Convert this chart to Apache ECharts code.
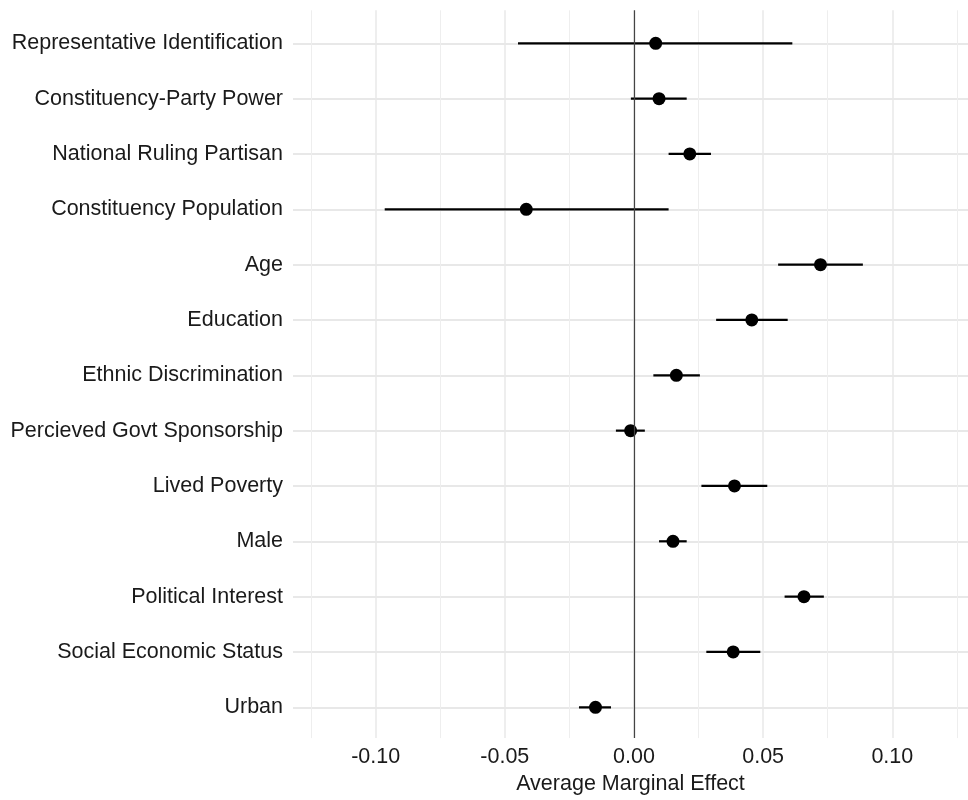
<!DOCTYPE html>
<html>
<head>
<meta charset="utf-8">
<script src="https://cdn.jsdelivr.net/npm/echarts@6/dist/echarts.min.js"></script>
<style>
html, body { margin: 0; padding: 0; background: #fff; }
#chart { width: 968px; height: 800px; }
</style>
</head>
<body>
<div id="chart"></div>
<script>
// coefficients (top row first)
const categories = [
  'Representative Identification',
  'Constituency-Party Power',
  'National Ruling Partisan',
  'Constituency Population',
  'Age',
  'Education',
  'Ethnic Discrimination',
  'Percieved Govt Sponsorship',
  'Lived Poverty',
  'Male',
  'Political Interest',
  'Social Economic Status',
  'Urban'
];
const estimates = [0.0084, 0.0097, 0.0216, -0.0417, 0.0722, 0.0456, 0.0164, -0.0013, 0.0389, 0.0151, 0.0658, 0.0384, -0.0149];
const lower     = [-0.0449, -0.0012, 0.0134, -0.0965, 0.0558, 0.0318, 0.0075, -0.0070, 0.0261, 0.0097, 0.0583, 0.0280, -0.0213];
const upper     = [0.0613, 0.0204, 0.0298, 0.0134, 0.0886, 0.0595, 0.0255, 0.0042, 0.0516, 0.0204, 0.0735, 0.0489, -0.0089];

const majorTicks = [-0.10, -0.05, 0, 0.05, 0.10];
const minorTicks = [-0.125, -0.075, -0.025, 0.025, 0.075, 0.125];
const refLine = 0;

const xMin = -0.132;
const xMax = 0.1293;

const font = '"Liberation Sans", Arial, Helvetica, sans-serif';
const textColor = '#1a1a1a';

const chart = echarts.init(document.getElementById('chart'));

const option = {
  animation: false,
  backgroundColor: '#fff',
  grid: [
    // full panel: vertical grid lines, x axis, zero line
    { left: 293, right: 0, top: 10.3, bottom: 59.7 },
    // rows
    { left: 293, right: 0, top: 43.3, bottom: 92.7 }
  ],
  xAxis: [
    {
      gridIndex: 0, type: 'value', min: xMin, max: xMax, position: 'bottom',
      axisLine: { show: false },
      axisTick: { show: false, customValues: majorTicks },
      axisLabel: {
        customValues: majorTicks,
        formatter: v => v.toFixed(2),
        margin: 8, fontSize: 21.5, color: textColor, fontFamily: font
      },
      splitLine: { show: true, lineStyle: { color: '#E8E8E8', width: 1.5 } },
      name: 'Average Marginal Effect',
      nameLocation: 'middle',
      nameGap: 33,
      nameTextStyle: { fontSize: 21.5, color: textColor, fontFamily: font }
    },
    {
      gridIndex: 0, type: 'value', min: xMin, max: xMax, position: 'bottom',
      axisLine: { show: false },
      axisTick: { show: false, customValues: minorTicks },
      axisLabel: { show: false },
      splitLine: { show: true, lineStyle: { color: '#EEEEEE', width: 1 } }
    },
    { gridIndex: 1, type: 'value', min: xMin, max: xMax, show: false }
  ],
  yAxis: [
    { gridIndex: 0, type: 'value', min: 0, max: 1, show: false },
    {
      gridIndex: 1, type: 'category', data: categories,
      inverse: true, boundaryGap: false,
      axisLine: { show: false },
      axisTick: { show: false },
      axisLabel: {
        margin: 10, fontSize: 21.5, color: textColor, fontFamily: font,
        padding: [12, 0, 0, 0]
      },
      splitLine: { show: true, lineStyle: { color: '#E8E8E8', width: 1.8 } }
    }
  ],
  series: [
    {
      type: 'line', xAxisIndex: 0, yAxisIndex: 0, data: [],
      markLine: {
        silent: true, symbol: 'none', label: { show: false },
        lineStyle: { color: '#444', width: 1.2, type: 'solid' },
        data: [{ xAxis: refLine }]
      }
    },
    {
      type: 'custom', xAxisIndex: 2, yAxisIndex: 1,
      data: categories.map((c, i) => [lower[i], upper[i], i]),
      encode: { x: [0, 1], y: 2 },
      renderItem: function (params, api) {
        const a = api.coord([api.value(0), api.value(2)]);
        const b = api.coord([api.value(1), api.value(2)]);
        return {
          type: 'line',
          shape: { x1: a[0], y1: a[1], x2: b[0], y2: b[1] },
          style: { stroke: '#000', lineWidth: 2.2 }
        };
      }
    },
    {
      type: 'scatter', xAxisIndex: 2, yAxisIndex: 1,
      data: categories.map((c, i) => [estimates[i], i]),
      symbolSize: 13,
      itemStyle: { color: '#000', opacity: 1 },
      z: 3
    }
  ]
};

chart.setOption(option);
</script>
</body>
</html>
